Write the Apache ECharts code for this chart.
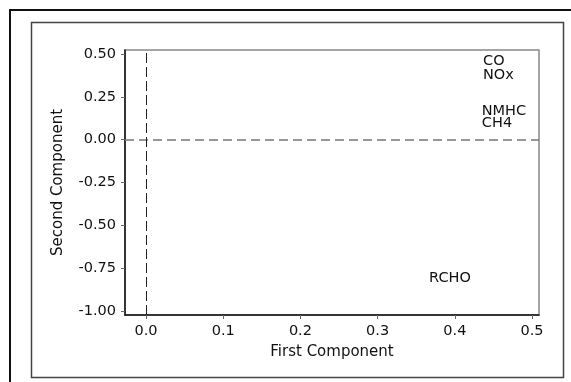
<!DOCTYPE html>
<html>
<head>
<meta charset="utf-8">
<script src="https://cdn.jsdelivr.net/npm/echarts@6/dist/echarts.min.js"></script>
<style>
  html, body { margin: 0; padding: 0; background: #fff; }
  #chart { width: 571px; height: 382px; }
</style>
</head>
<body>
<div id="chart"></div>
<script>
// loading plot data (label, first component, second component)
var names = ['CO', 'NOx', 'NMHC', 'CH4', 'RCHO'];
var firstComp = [0.4365, 0.4365, 0.4348, 0.4350, 0.3666];
var secondComp = [0.455, 0.378, 0.168, 0.098, -0.805];

var xTicks = [0, 0.1, 0.2, 0.3, 0.4, 0.5];
var yTicks = [-1, -0.75, -0.5, -0.25, 0, 0.25, 0.5];

var font = 'DejaVu Sans';

var points = [];
for (var i = 0; i < names.length; i++) {
    points.push({ name: names[i], value: [firstComp[i], secondComp[i]] });
}

var option = {
    animation: false,
    backgroundColor: '#fff',
    textStyle: { fontFamily: font },
    graphic: [
        {
            type: 'rect',
            shape: { x: 10, y: 10, width: 600, height: 400 },
            style: { fill: 'none', stroke: '#111', lineWidth: 2 },
            silent: true
        },
        {
            type: 'rect',
            shape: { x: 31.5, y: 22.5, width: 532, height: 355 },
            style: { fill: 'none', stroke: '#444', lineWidth: 1.5 },
            silent: true
        }
    ],
    grid: {
        left: 125,
        top: 50,
        right: 32,
        bottom: 67,
        show: true,
        borderColor: '#888',
        borderWidth: 1.5
    },
    xAxis: {
        type: 'value',
        min: -0.0272,
        max: 0.509,
        name: 'First Component',
        nameLocation: 'middle',
        nameGap: 30,
        nameTextStyle: { fontFamily: font, fontSize: 15, color: '#111' },
        axisLine: { show: true, onZero: false, lineStyle: { color: '#111', width: 1.5 } },
        axisTick: { show: true, length: 4, customValues: xTicks, lineStyle: { color: '#666' } },
        axisLabel: {
            customValues: xTicks,
            fontFamily: font,
            fontSize: 14.5,
            color: '#111',
            margin: 9,
            formatter: function (v) { return v.toFixed(1); }
        },
        splitLine: { show: false }
    },
    yAxis: {
        type: 'value',
        min: -1.022,
        max: 0.523,
        name: 'Second Component',
        nameLocation: 'middle',
        nameGap: 59,
        nameTextStyle: { fontFamily: font, fontSize: 15, color: '#111' },
        axisLine: { show: true, onZero: false, lineStyle: { color: '#111', width: 1.5 } },
        axisTick: { show: true, length: 4, customValues: yTicks, lineStyle: { color: '#666' } },
        axisLabel: {
            customValues: yTicks,
            fontFamily: font,
            fontSize: 14.5,
            color: '#111',
            margin: 9,
            formatter: function (v) { return v.toFixed(2); }
        },
        splitLine: { show: false }
    },
    series: [
        {
            type: 'scatter',
            symbolSize: 0,
            itemStyle: { opacity: 1 },
            data: points,
            label: {
                show: true,
                position: 'right',
                distance: 0,
                fontFamily: font,
                fontSize: 14.5,
                color: '#111',
                opacity: 1,
                formatter: '{b}'
            },
            markLine: {
                silent: true,
                symbol: 'none',
                label: { show: false },
                data: [
                    { yAxis: 0, lineStyle: { color: '#777', width: 1.5, type: [9, 5] } },
                    { xAxis: 0, lineStyle: { color: '#222', width: 1, type: [10, 4] } }
                ]
            }
        }
    ]
};

var chart = echarts.init(document.getElementById('chart'));
chart.setOption(option);
</script>
</body>
</html>
